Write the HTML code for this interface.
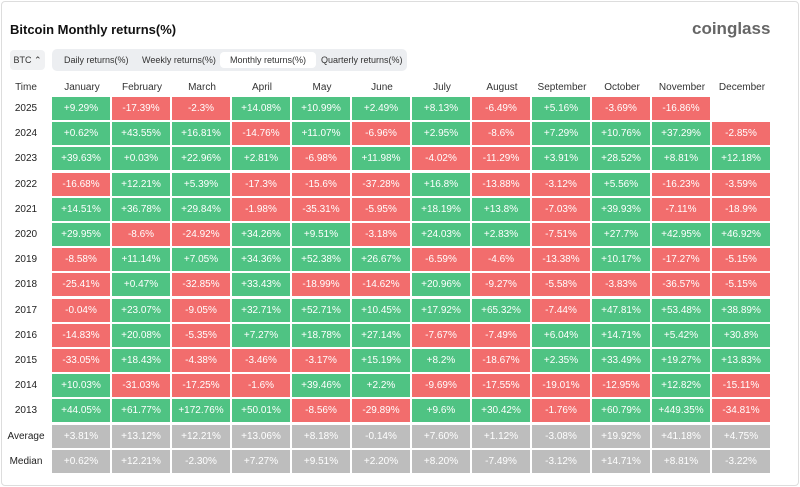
<!DOCTYPE html><html><head><style>
body{margin:0;width:800px;height:487px;background:#fff;font-family:"Liberation Sans",sans-serif;overflow:hidden}
.card{position:absolute;left:1px;top:1px;width:796px;height:483px;border:1px solid #ddd;border-radius:4px}
.title{position:absolute;left:10px;top:22px;font-size:13px;font-weight:bold;color:#111}
.logo{position:absolute;left:692px;top:19px;font-size:17px;font-weight:bold;color:#666}
.btc{position:absolute;left:10px;top:50px;width:35px;height:20px;background:#f0f1f3;border-radius:4px;font-size:9px;line-height:20px;text-align:center;color:#333}
.tabs{position:absolute;left:52px;top:49px;width:355px;height:22px;background:#eceef1;border-radius:5px}
.tab{position:absolute;top:3px;height:16px;line-height:16px;font-size:9px;color:#333}
.hd{position:absolute;top:82px;font-size:10px;color:#333;text-align:center;width:60px}
.c{position:absolute;width:58px;height:23px;line-height:23px;text-align:center;font-size:10px;color:#fff}
.g{background:#4fc383}.r{background:#f26d6d}.a{background:#bdbdbd}
.y{position:absolute;left:0;width:52px;text-align:center;font-size:10px;color:#222;height:23px;line-height:23px}
</style></head><body><div class="card"></div>
<div class="title">Bitcoin Monthly returns(%)</div>
<div class="logo">coinglass</div>
<div class="btc">BTC ⌃</div>
<div class="tabs">
<div class="tab" style="left:12px">Daily returns(%)</div>
<div class="tab" style="left:90px">Weekly returns(%)</div>
<div class="tab" style="left:168px;background:#fff;border-radius:4px;padding:0 10px">Monthly returns(%)</div>
<div class="tab" style="left:269px">Quarterly returns(%)</div>
</div>
<div id="t"></div>
<script>
const m=["January","February","March","April","May","June","July","August","September","October","November","December"];
const d=[["2025","+9.29%","-17.39%","-2.3%","+14.08%","+10.99%","+2.49%","+8.13%","-6.49%","+5.16%","-3.69%","-16.86%",""],
["2024","+0.62%","+43.55%","+16.81%","-14.76%","+11.07%","-6.96%","+2.95%","-8.6%","+7.29%","+10.76%","+37.29%","-2.85%"],
["2023","+39.63%","+0.03%","+22.96%","+2.81%","-6.98%","+11.98%","-4.02%","-11.29%","+3.91%","+28.52%","+8.81%","+12.18%"],
["2022","-16.68%","+12.21%","+5.39%","-17.3%","-15.6%","-37.28%","+16.8%","-13.88%","-3.12%","+5.56%","-16.23%","-3.59%"],
["2021","+14.51%","+36.78%","+29.84%","-1.98%","-35.31%","-5.95%","+18.19%","+13.8%","-7.03%","+39.93%","-7.11%","-18.9%"],
["2020","+29.95%","-8.6%","-24.92%","+34.26%","+9.51%","-3.18%","+24.03%","+2.83%","-7.51%","+27.7%","+42.95%","+46.92%"],
["2019","-8.58%","+11.14%","+7.05%","+34.36%","+52.38%","+26.67%","-6.59%","-4.6%","-13.38%","+10.17%","-17.27%","-5.15%"],
["2018","-25.41%","+0.47%","-32.85%","+33.43%","-18.99%","-14.62%","+20.96%","-9.27%","-5.58%","-3.83%","-36.57%","-5.15%"],
["2017","-0.04%","+23.07%","-9.05%","+32.71%","+52.71%","+10.45%","+17.92%","+65.32%","-7.44%","+47.81%","+53.48%","+38.89%"],
["2016","-14.83%","+20.08%","-5.35%","+7.27%","+18.78%","+27.14%","-7.67%","-7.49%","+6.04%","+14.71%","+5.42%","+30.8%"],
["2015","-33.05%","+18.43%","-4.38%","-3.46%","-3.17%","+15.19%","+8.2%","-18.67%","+2.35%","+33.49%","+19.27%","+13.83%"],
["2014","+10.03%","-31.03%","-17.25%","-1.6%","+39.46%","+2.2%","-9.69%","-17.55%","-19.01%","-12.95%","+12.82%","-15.11%"],
["2013","+44.05%","+61.77%","+172.76%","+50.01%","-8.56%","-29.89%","+9.6%","+30.42%","-1.76%","+60.79%","+449.35%","-34.81%"],
["Average","+3.81%","+13.12%","+12.21%","+13.06%","+8.18%","-0.14%","+7.60%","+1.12%","-3.08%","+19.92%","+41.18%","+4.75%"],
["Median","+0.62%","+12.21%","-2.30%","+7.27%","+9.51%","+2.20%","+8.20%","-7.49%","-3.12%","+14.71%","+8.81%","-3.22%"]];
let h='<div class="hd" style="left:0;width:52px">Time</div>';
m.forEach((n,i)=>h+=`<div class="hd" style="left:${52+i*60}px">${n}</div>`);
d.forEach((r,j)=>{const y=97+j*25.2;h+=`<div class="y" style="top:${y}px">${r[0]}</div>`;
for(let i=1;i<13;i++){if(!r[i])continue;const cl=j>=13?'a':(r[i][0]=='-'?'r':'g');
h+=`<div class="c ${cl}" style="left:${52+(i-1)*60}px;top:${y}px">${r[i]}</div>`;}});
document.getElementById('t').innerHTML=h;
</script></body></html>
